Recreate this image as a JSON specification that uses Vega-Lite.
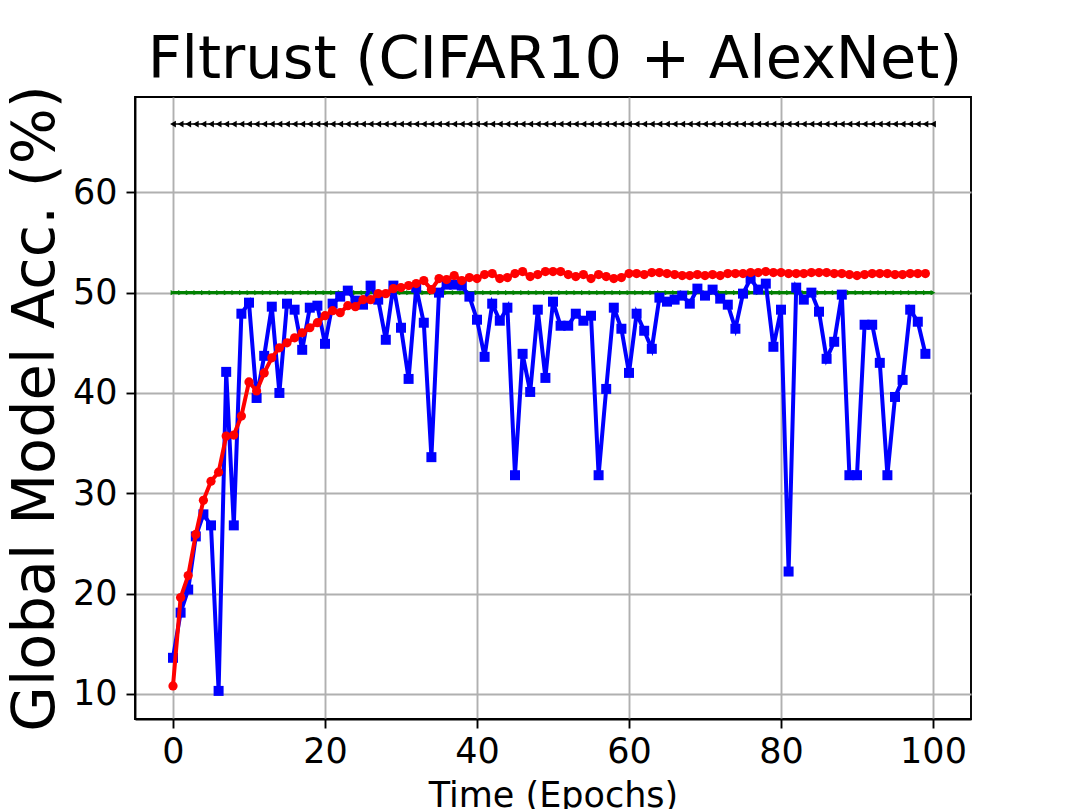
{
  "$schema": "https://vega.github.io/schema/vega-lite/v6.json",
  "width": 836,
  "height": 622,
  "autosize": {"type": "none"},
  "padding": {"left": 135, "top": 97, "right": 108, "bottom": 90},
  "background": "white",
  "config": {
    "font": "DejaVu Sans",
    "view": {"stroke": "black", "strokeWidth": 1.9},
    "axis": {
      "labelFont": "DejaVu Sans", "titleFont": "DejaVu Sans",
      "labelColor": "black", "titleColor": "black",
      "titleFontWeight": "normal",
      "tickColor": "black", "tickWidth": 1.9, "tickSize": 9,
      "domainColor": "black", "domainWidth": 1.9,
      "gridColor": "#b0b0b0", "gridWidth": 1.9, "gridOpacity": 1
    }
  },
  "title": {
    "text": "Fltrust (CIFAR10 + AlexNet)",
    "fontSize": 59, "fontWeight": "normal", "font": "DejaVu Sans", "color": "black",
    "frame": "group", "anchor": "middle", "baseline": "alphabetic", "offset": 1, "dx": 2, "dy": 53
  },
  "datasets": {
    "black": [
      {"e":0,"v":66.8},{"e":1,"v":66.8},{"e":2,"v":66.8},{"e":3,"v":66.8},{"e":4,"v":66.8},{"e":5,"v":66.8},{"e":6,"v":66.8},{"e":7,"v":66.8},{"e":8,"v":66.8},{"e":9,"v":66.8},
      {"e":10,"v":66.8},{"e":11,"v":66.8},{"e":12,"v":66.8},{"e":13,"v":66.8},{"e":14,"v":66.8},{"e":15,"v":66.8},{"e":16,"v":66.8},{"e":17,"v":66.8},{"e":18,"v":66.8},{"e":19,"v":66.8},
      {"e":20,"v":66.8},{"e":21,"v":66.8},{"e":22,"v":66.8},{"e":23,"v":66.8},{"e":24,"v":66.8},{"e":25,"v":66.8},{"e":26,"v":66.8},{"e":27,"v":66.8},{"e":28,"v":66.8},{"e":29,"v":66.8},
      {"e":30,"v":66.8},{"e":31,"v":66.8},{"e":32,"v":66.8},{"e":33,"v":66.8},{"e":34,"v":66.8},{"e":35,"v":66.8},{"e":36,"v":66.8},{"e":37,"v":66.8},{"e":38,"v":66.8},{"e":39,"v":66.8},
      {"e":40,"v":66.8},{"e":41,"v":66.8},{"e":42,"v":66.8},{"e":43,"v":66.8},{"e":44,"v":66.8},{"e":45,"v":66.8},{"e":46,"v":66.8},{"e":47,"v":66.8},{"e":48,"v":66.8},{"e":49,"v":66.8},
      {"e":50,"v":66.8},{"e":51,"v":66.8},{"e":52,"v":66.8},{"e":53,"v":66.8},{"e":54,"v":66.8},{"e":55,"v":66.8},{"e":56,"v":66.8},{"e":57,"v":66.8},{"e":58,"v":66.8},{"e":59,"v":66.8},
      {"e":60,"v":66.8},{"e":61,"v":66.8},{"e":62,"v":66.8},{"e":63,"v":66.8},{"e":64,"v":66.8},{"e":65,"v":66.8},{"e":66,"v":66.8},{"e":67,"v":66.8},{"e":68,"v":66.8},{"e":69,"v":66.8},
      {"e":70,"v":66.8},{"e":71,"v":66.8},{"e":72,"v":66.8},{"e":73,"v":66.8},{"e":74,"v":66.8},{"e":75,"v":66.8},{"e":76,"v":66.8},{"e":77,"v":66.8},{"e":78,"v":66.8},{"e":79,"v":66.8},
      {"e":80,"v":66.8},{"e":81,"v":66.8},{"e":82,"v":66.8},{"e":83,"v":66.8},{"e":84,"v":66.8},{"e":85,"v":66.8},{"e":86,"v":66.8},{"e":87,"v":66.8},{"e":88,"v":66.8},{"e":89,"v":66.8},
      {"e":90,"v":66.8},{"e":91,"v":66.8},{"e":92,"v":66.8},{"e":93,"v":66.8},{"e":94,"v":66.8},{"e":95,"v":66.8},{"e":96,"v":66.8},{"e":97,"v":66.8},{"e":98,"v":66.8},{"e":99,"v":66.8},
      {"e":100,"v":66.8}
    ],
    "green": [
      {"e":0,"v":50},{"e":1,"v":50},{"e":2,"v":50},{"e":3,"v":50},{"e":4,"v":50},{"e":5,"v":50},{"e":6,"v":50},{"e":7,"v":50},{"e":8,"v":50},{"e":9,"v":50},
      {"e":10,"v":50},{"e":11,"v":50},{"e":12,"v":50},{"e":13,"v":50},{"e":14,"v":50},{"e":15,"v":50},{"e":16,"v":50},{"e":17,"v":50},{"e":18,"v":50},{"e":19,"v":50},
      {"e":20,"v":50},{"e":21,"v":50},{"e":22,"v":50},{"e":23,"v":50},{"e":24,"v":50},{"e":25,"v":50},{"e":26,"v":50},{"e":27,"v":50},{"e":28,"v":50},{"e":29,"v":50},
      {"e":30,"v":50},{"e":31,"v":50},{"e":32,"v":50},{"e":33,"v":50},{"e":34,"v":50},{"e":35,"v":50},{"e":36,"v":50},{"e":37,"v":50},{"e":38,"v":50},{"e":39,"v":50},
      {"e":40,"v":50},{"e":41,"v":50},{"e":42,"v":50},{"e":43,"v":50},{"e":44,"v":50},{"e":45,"v":50},{"e":46,"v":50},{"e":47,"v":50},{"e":48,"v":50},{"e":49,"v":50},
      {"e":50,"v":50},{"e":51,"v":50},{"e":52,"v":50},{"e":53,"v":50},{"e":54,"v":50},{"e":55,"v":50},{"e":56,"v":50},{"e":57,"v":50},{"e":58,"v":50},{"e":59,"v":50},
      {"e":60,"v":50},{"e":61,"v":50},{"e":62,"v":50},{"e":63,"v":50},{"e":64,"v":50},{"e":65,"v":50},{"e":66,"v":50},{"e":67,"v":50},{"e":68,"v":50},{"e":69,"v":50},
      {"e":70,"v":50},{"e":71,"v":50},{"e":72,"v":50},{"e":73,"v":50},{"e":74,"v":50},{"e":75,"v":50},{"e":76,"v":50},{"e":77,"v":50},{"e":78,"v":50},{"e":79,"v":50},
      {"e":80,"v":50},{"e":81,"v":50},{"e":82,"v":50},{"e":83,"v":50},{"e":84,"v":50},{"e":85,"v":50},{"e":86,"v":50},{"e":87,"v":50},{"e":88,"v":50},{"e":89,"v":50},
      {"e":90,"v":50},{"e":91,"v":50},{"e":92,"v":50},{"e":93,"v":50},{"e":94,"v":50},{"e":95,"v":50},{"e":96,"v":50},{"e":97,"v":50},{"e":98,"v":50},{"e":99,"v":50},
      {"e":100,"v":50}
    ],
    "blue": [
      {"e":0,"v":13.6},{"e":1,"v":18.1},{"e":2,"v":20.4},{"e":3,"v":25.7},{"e":4,"v":27.9},{"e":5,"v":26.8},{"e":6,"v":10.3},{"e":7,"v":42.1},{"e":8,"v":26.8},{"e":9,"v":47.9},
      {"e":10,"v":49.0},{"e":11,"v":39.5},{"e":12,"v":43.7},{"e":13,"v":48.6},{"e":14,"v":40.0},{"e":15,"v":48.9},{"e":16,"v":48.3},{"e":17,"v":44.3},{"e":18,"v":48.5},{"e":19,"v":48.7},
      {"e":20,"v":44.9},{"e":21,"v":48.9},{"e":22,"v":49.6},{"e":23,"v":50.2},{"e":24,"v":49.2},{"e":25,"v":48.8},{"e":26,"v":50.7},{"e":27,"v":49.3},{"e":28,"v":45.3},{"e":29,"v":50.7},
      {"e":30,"v":46.5},{"e":31,"v":41.4},{"e":32,"v":50.5},{"e":33,"v":47.0},{"e":34,"v":33.6},{"e":35,"v":50.0},{"e":36,"v":50.8},{"e":37,"v":50.8},{"e":38,"v":50.7},{"e":39,"v":49.6},
      {"e":40,"v":47.3},{"e":41,"v":43.6},{"e":42,"v":48.9},{"e":43,"v":47.2},{"e":44,"v":48.5},{"e":45,"v":31.8},{"e":46,"v":43.9},{"e":47,"v":40.1},{"e":48,"v":48.3},{"e":49,"v":41.5},
      {"e":50,"v":49.1},{"e":51,"v":46.7},{"e":52,"v":46.7},{"e":53,"v":47.9},{"e":54,"v":47.2},{"e":55,"v":47.7},{"e":56,"v":31.8},{"e":57,"v":40.4},{"e":58,"v":48.5},{"e":59,"v":46.4},
      {"e":60,"v":42.0},{"e":61,"v":47.9},{"e":62,"v":46.2},{"e":63,"v":44.4},{"e":64,"v":49.5},{"e":65,"v":49.1},{"e":66,"v":49.3},{"e":67,"v":49.7},{"e":68,"v":48.9},{"e":69,"v":50.4},
      {"e":70,"v":49.7},{"e":71,"v":50.3},{"e":72,"v":49.4},{"e":73,"v":48.8},{"e":74,"v":46.4},{"e":75,"v":49.9},{"e":76,"v":51.4},{"e":77,"v":50.3},{"e":78,"v":50.9},{"e":79,"v":44.6},
      {"e":80,"v":48.3},{"e":81,"v":22.2},{"e":82,"v":50.5},{"e":83,"v":49.3},{"e":84,"v":50.0},{"e":85,"v":48.1},{"e":86,"v":43.4},{"e":87,"v":45.1},{"e":88,"v":49.8},{"e":89,"v":31.8},
      {"e":90,"v":31.8},{"e":91,"v":46.8},{"e":92,"v":46.8},{"e":93,"v":43.0},{"e":94,"v":31.8},{"e":95,"v":39.6},{"e":96,"v":41.3},{"e":97,"v":48.3},{"e":98,"v":47.1},{"e":99,"v":43.9}
    ],
    "red": [
      {"e":0,"v":10.8},{"e":1,"v":19.6},{"e":2,"v":21.8},{"e":3,"v":25.9},{"e":4,"v":29.3},{"e":5,"v":31.2},{"e":6,"v":32.1},{"e":7,"v":35.7},{"e":8,"v":35.8},{"e":9,"v":37.7},
      {"e":10,"v":41.1},{"e":11,"v":40.2},{"e":12,"v":42.0},{"e":13,"v":43.5},{"e":14,"v":44.5},{"e":15,"v":45.0},{"e":16,"v":45.5},{"e":17,"v":46.0},{"e":18,"v":46.5},{"e":19,"v":47.0},
      {"e":20,"v":47.7},{"e":21,"v":48.2},{"e":22,"v":48.0},{"e":23,"v":48.7},{"e":24,"v":48.6},{"e":25,"v":49.3},{"e":26,"v":49.3},{"e":27,"v":49.9},{"e":28,"v":49.9},{"e":29,"v":50.4},
      {"e":30,"v":50.5},{"e":31,"v":50.7},{"e":32,"v":50.9},{"e":33,"v":51.2},{"e":34,"v":50.3},{"e":35,"v":51.4},{"e":36,"v":51.3},{"e":37,"v":51.7},{"e":38,"v":51.2},{"e":39,"v":51.5},
      {"e":40,"v":51.4},{"e":41,"v":51.8},{"e":42,"v":51.9},{"e":43,"v":51.4},{"e":44,"v":51.5},{"e":45,"v":51.9},{"e":46,"v":52.1},{"e":47,"v":51.6},{"e":48,"v":51.8},{"e":49,"v":52.1},
      {"e":50,"v":52.1},{"e":51,"v":52.1},{"e":52,"v":51.8},{"e":53,"v":51.6},{"e":54,"v":51.8},{"e":55,"v":51.4},{"e":56,"v":51.8},{"e":57,"v":51.6},{"e":58,"v":51.4},{"e":59,"v":51.5},
      {"e":60,"v":51.9},{"e":61,"v":51.9},{"e":62,"v":51.8},{"e":63,"v":52.0},{"e":64,"v":52.0},{"e":65,"v":51.9},{"e":66,"v":51.8},{"e":67,"v":51.7},{"e":68,"v":51.7},{"e":69,"v":51.8},
      {"e":70,"v":51.7},{"e":71,"v":51.8},{"e":72,"v":51.7},{"e":73,"v":51.9},{"e":74,"v":51.9},{"e":75,"v":51.9},{"e":76,"v":52.0},{"e":77,"v":52.0},{"e":78,"v":52.1},{"e":79,"v":52.0},
      {"e":80,"v":52.0},{"e":81,"v":51.9},{"e":82,"v":51.9},{"e":83,"v":51.9},{"e":84,"v":52.0},{"e":85,"v":52.0},{"e":86,"v":52.0},{"e":87,"v":51.9},{"e":88,"v":51.9},{"e":89,"v":51.8},
      {"e":90,"v":51.7},{"e":91,"v":51.8},{"e":92,"v":51.9},{"e":93,"v":51.9},{"e":94,"v":51.9},{"e":95,"v":51.8},{"e":96,"v":51.8},{"e":97,"v":51.9},{"e":98,"v":51.9},{"e":99,"v":51.9}
    ]
  },
  "encoding": {
    "x": {
      "field": "e", "type": "quantitative",
      "scale": {"domain": [-5, 105], "nice": false, "zero": false},
      "axis": {
        "values": [0, 20, 40, 60, 80, 100], "format": "d",
        "title": "Time (Epochs)", "titleFontSize": 35,
        "titleX": 418, "titleY": 87, "titleBaseline": "alphabetic", "titleAlign": "center",
        "labelFontSize": 35, "labelPadding": 6, "labelFlush": false, "labelOverlap": false
      }
    },
    "y": {
      "field": "v", "type": "quantitative",
      "scale": {"domain": [7.5, 69.5], "nice": false, "zero": false},
      "axis": {
        "values": [10, 20, 30, 40, 50, 60], "format": "d",
        "title": "Global Model Acc. (%)", "titleFontSize": 59,
        "titleX": -82, "titleY": 311, "titleBaseline": "alphabetic", "titleAlign": "center", "titleAngle": 270,
        "labelFontSize": 35, "labelPadding": 9, "labelFlush": false, "labelOverlap": false
      }
    }
  },
  "layer": [
    {
      "data": {"name": "black"},
      "mark": {"type": "line", "color": "black", "strokeWidth": 1.5,
        "point": {"shape": "triangle-left", "size": 45, "filled": true, "color": "black"}}
    },
    {
      "data": {"name": "green"},
      "mark": {"type": "line", "color": "green", "strokeWidth": 3.2,
        "point": {"shape": "triangle-right", "size": 30, "filled": true, "color": "green"}}
    },
    {
      "data": {"name": "blue"},
      "mark": {"type": "line", "color": "blue", "strokeWidth": 4,
        "point": {"shape": "square", "size": 100, "filled": true, "color": "blue", "opacity": 1}}
    },
    {
      "data": {"name": "red"},
      "mark": {"type": "line", "color": "red", "strokeWidth": 4,
        "point": {"shape": "circle", "size": 85, "filled": true, "color": "red", "opacity": 1}}
    }
  ]
}
